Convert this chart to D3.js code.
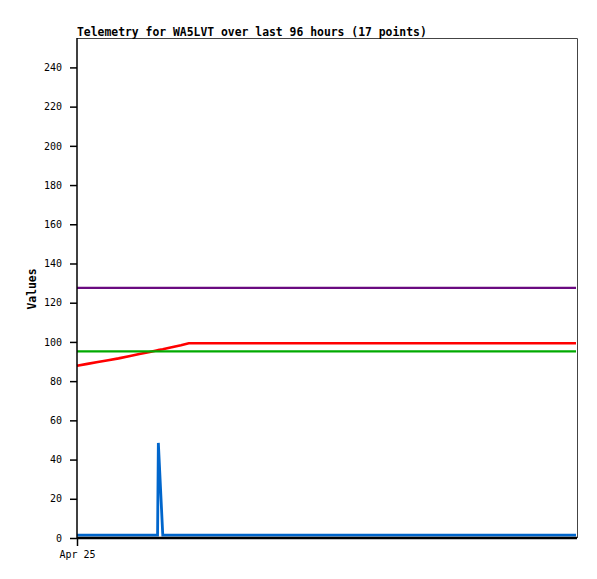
<!DOCTYPE html>
<html><head><meta charset="utf-8">
<script src="https://cdn.jsdelivr.net/npm/d3@7"></script>
<style>body{margin:0;background:#fff}svg{display:block}</style>
</head><body>
<script>
const hours = [0, 2, 4, 6, 8, 10, 12, 14, 15.5, 15.65, 16.5, 18, 20, 21.5, 40, 70, 96];
const seriesRed    = [87.8, 88.8, 89.8, 90.7, 91.6, 92.7, 93.8, 94.9, 95.7, 95.9, 96.3, 97.2, 98.3, 99.3, 99.3, 99.3, 99.3];
const seriesGreen  = [95.2, 95.2, 95.2, 95.2, 95.2, 95.2, 95.2, 95.2, 95.2, 95.2, 95.2, 95.2, 95.2, 95.2, 95.2, 95.2, 95.2];
const seriesPurple = [127.6, 127.6, 127.6, 127.6, 127.6, 127.6, 127.6, 127.6, 127.6, 127.6, 127.6, 127.6, 127.6, 127.6, 127.6, 127.6, 127.6];
const seriesBlue   = [1.5, 1.5, 1.5, 1.5, 1.5, 1.5, 1.5, 1.5, 1.5, 48.5, 1.5, 1.5, 1.5, 1.5, 1.5, 1.5, 1.5];
const yTicks = [0, 20, 40, 60, 80, 100, 120, 140, 160, 180, 200, 220, 240];
const xTickLabels = ["Apr 25"];
const xTickHours = [0];
const title = "Telemetry for WA5LVT over last 96 hours (17 points)";

const W = 597, H = 579;
const L = 77, R = 577, T = 38, B = 538;
const svg = d3.select("body").append("svg").attr("width", W).attr("height", H);
const x = d3.scaleLinear().domain([0, 96]).range([L, R - 1]);
const y = d3.scaleLinear().domain([0, 255]).range([B, T]);

// frame
svg.append("path").attr("d", `M${L},${T}.5H${R}.5V${B}`).attr("fill","none").attr("stroke","#444").attr("stroke-width",1);

const series = [
  {v: seriesPurple, c: "#6a0a80", w: 2.2},
  {v: seriesRed, c: "#ff0000", w: 2.6},
  {v: seriesGreen, c: "#00aa00", w: 2.2},
  {v: seriesBlue, c: "#0066cc", w: 2.8}
];
const line = d3.line().x((d,i)=>x(hours[i])).y(d=>y(d));
series.forEach(s=>{
  svg.append("path").datum(s.v).attr("d", line).attr("fill","none")
    .attr("stroke", s.c).attr("stroke-width", s.w).attr("stroke-linejoin","miter");
});

// y axis
const yAxis = d3.axisLeft(y).tickValues(yTicks).tickSize(7).tickPadding(8).tickFormat(d3.format("d"));
const ga = svg.append("g").attr("transform", `translate(${L},0)`).call(yAxis);
ga.select(".domain").attr("d", `M0,${T}V${B}`).attr("stroke","#000").attr("stroke-width",1.5);
ga.selectAll(".tick line").attr("stroke","#000").attr("stroke-width",1.5);
ga.selectAll("text").attr("font-family","'DejaVu Sans Mono', monospace").attr("font-size","10px").attr("fill","#000");

// x axis
const xAxis = d3.axisBottom(x).tickValues(xTickHours).tickSize(8).tickPadding(5).tickFormat((d,i)=>xTickLabels[i]);
const gx = svg.append("g").attr("transform", `translate(0,${B})`).call(xAxis);
gx.select(".domain").attr("d", `M${L},0H${R}`).attr("stroke","#000").attr("stroke-width",2.5);
gx.selectAll(".tick line").attr("stroke","#000").attr("stroke-width",1.5);
gx.selectAll("text").attr("font-family","'DejaVu Sans Mono', monospace").attr("font-size","10px").attr("fill","#000");

// title
svg.append("text").attr("x", L).attr("y", 35.5).text(title)
  .attr("font-family","'DejaVu Sans Mono', monospace").attr("font-weight","bold").attr("font-size","11.4px");
// y label
svg.append("text").attr("transform","translate(36,289) rotate(-90)").attr("text-anchor","middle").text("Values")
  .attr("font-family","'DejaVu Sans Mono', monospace").attr("font-weight","bold").attr("font-size","11.4px");
</script>
</body></html>
